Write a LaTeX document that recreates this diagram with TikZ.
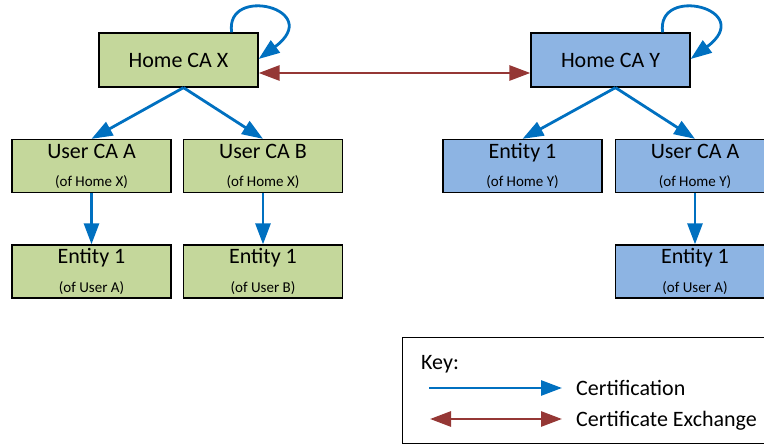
\documentclass[tikz,border=0pt]{standalone}
\usepackage{fontspec}
\setmainfont{Carlito}
\usetikzlibrary{arrows.meta}

\definecolor{boxgreen}{HTML}{C4D79B}
\definecolor{boxblue}{HTML}{8DB4E3}
\definecolor{certblue}{HTML}{0070C0}
\definecolor{xchred}{HTML}{953735}

\tikzset{
  box/.style={draw=black, line width=1.3pt, minimum width=159pt, inner sep=0pt},
  gbox/.style={box, fill=boxgreen},
  bbox/.style={box, fill=boxblue},
  bigtxt/.style={font=\fontsize{22}{26}\selectfont, inner sep=0pt},
  smalltxt/.style={font=\fontsize{15}{18}\selectfont, inner sep=0pt},
  certtip/.tip={Triangle[length=21pt, width=15pt]},
  cert/.style={draw=certblue, line width=2.8pt, -{certtip}},
  xchg/.style={draw=xchred, line width=2.8pt, {certtip}-{certtip}},
}

\begin{document}
\begin{tikzpicture}[x=1pt, y=-1pt]
  \useasboundingbox (0,0) rectangle (764,444);

  % home CAs
  \node[gbox, minimum height=54pt, bigtxt] (hx) at (178.5,60) {Home CA X};
  \node[bbox, minimum height=54pt, bigtxt] (hy) at (610.5,60) {Home CA Y};

  % second row
  \node[gbox, minimum height=53pt] (uxa) at (91.5,166) {};
  \node[gbox, minimum height=53pt] (uxb) at (263,166) {};
  \node[bbox, minimum height=53pt] (ey1) at (522.5,166) {};
  \node[bbox, minimum height=53pt] (uya) at (695,166) {};

  % third row
  \node[gbox, minimum height=53pt] (exa) at (91.5,271.5) {};
  \node[gbox, minimum height=53pt] (exb) at (263,271.5) {};
  \node[bbox, minimum height=53pt] (eya) at (695,271.5) {};

  % box captions
  \foreach \b/\main/\sub in {uxa/User CA A/(of Home X), uxb/User CA B/(of Home X),
                             ey1/Entity 1/(of Home Y), uya/User CA A/(of Home Y),
                             exa/Entity 1/(of User A), exb/Entity 1/(of User B),
                             eya/Entity 1/(of User A)} {
    \node[bigtxt, anchor=base] (\b-main) at ([yshift=-19.5pt]\b.north) {\main};
    \node[smalltxt, anchor=base] (\b-sub) at ([yshift=6.5pt]\b.south) {\sub};
  }

  % certification links
  \draw[cert] ([xshift=5pt]hx.south) -- (uxa.north);
  \draw[cert] ([xshift=5pt]hx.south) -- (uxb.north);
  \draw[cert] ([xshift=5pt]hy.south) -- (ey1.north);
  \draw[cert] ([xshift=5pt]hy.south) -- (uya.north);
  \draw[cert] (uxa.south) -- (exa.north);
  \draw[cert] (uxb.south) -- (exb.north);
  \draw[cert] (uya.south) -- (eya.north);

  % self-certification loops
  \draw[cert] ([xshift=-27pt]hx.north east) .. controls +(-7,-48) and +(67,-50) .. ([yshift=1pt]hx.east);
  \draw[cert] ([xshift=-28pt]hy.north east) .. controls +(-7,-48) and +(67,-50) .. ([yshift=1pt]hy.east);

  % certificate exchange
  \draw[xchg] ([yshift=-13pt]hx.east) -- ([yshift=-13pt]hy.west);

  % key
  \node[draw=black, line width=1pt, minimum width=400pt, minimum height=106pt, anchor=north west, inner sep=0pt] (key) at (402,337) {};
  \node[bigtxt, anchor=base west] (keytitle) at (421,369) {Key:};
  \coordinate (k1a) at (429,388);
  \coordinate (k1b) at (562,388);
  \coordinate (k2a) at (430,419);
  \coordinate (k2b) at (562,419);
  \draw[cert] (k1a) -- (k1b);
  \draw[xchg] (k2a) -- (k2b);
  \node[bigtxt, anchor=base west] (k1t) at (576,395) {Certification};
  \node[bigtxt, anchor=base west] (k2t) at (576,426) {Certificate Exchange};
\end{tikzpicture}
\end{document}
